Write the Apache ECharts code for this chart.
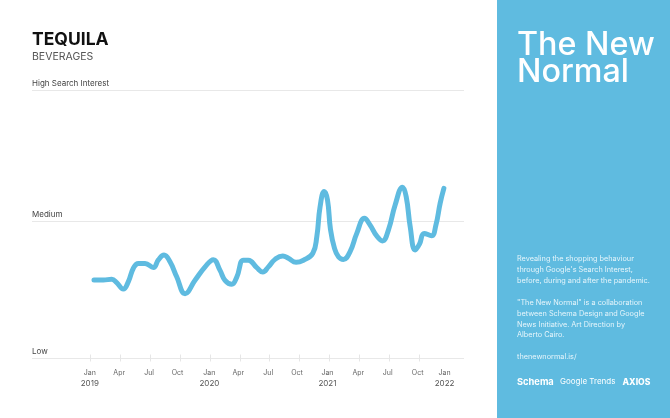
<!DOCTYPE html>
<html>
<head>
<meta charset="utf-8">
<style>
  html, body { margin: 0; padding: 0; background: #fff; }
  #chart { width: 670px; height: 418px; }
</style>
<script src="https://cdn.jsdelivr.net/npm/echarts@6/dist/echarts.min.js"></script>
</head>
<body>
<div id="chart"></div>
<script>
// months since Jan 2019
const months = [0.37, 1.31, 2.15, 2.65, 3.31, 3.82, 4.32, 4.82, 5.49, 6.33, 6.83, 7.4, 8, 8.67, 9.51, 10.51, 11.52, 12.35, 13.02, 13.52, 14.2, 14.7, 15.36, 15.86, 16.71, 17.31, 17.87, 18.54, 19.32, 19.88, 20.65, 21.39, 22.33, 22.73, 23.06, 23.47, 23.8, 24.1, 24.5, 24.9, 25.4, 26.07, 26.74, 27.51, 28.08, 28.75, 29.32, 29.92, 30.59, 31.33, 31.7, 32.1, 32.6, 33.03, 33.5, 34.24, 34.68, 35.11, 35.48]
const interest = [29.1, 29.1, 29.4, 28.1, 25.7, 28.5, 33.5, 35.3, 35.3, 33.8, 36.6, 38.4, 35.9, 30.3, 24, 29, 34, 36.7, 32.7, 29, 27.5, 30.2, 36.5, 36.5, 33.7, 32.1, 34, 36.8, 38.1, 37.2, 35.7, 36.5, 39.1, 45.3, 56.5, 62.1, 59, 48, 41, 37.8, 36.8, 39.7, 46.5, 52.1, 49.6, 45.5, 43.7, 47.8, 57.1, 63.7, 60.2, 49, 40.3, 42.5, 46.5, 45.6, 49.6, 57.8, 63.3]

const tickMonths = [0, 3, 6, 9, 12, 15, 18, 21, 24, 27, 30, 33]
const labelMonths = [-0.05, 2.9, 5.9, 8.75, 11.95, 14.85, 17.85, 20.75, 23.8, 26.9, 29.85, 32.85, 35.55]
const labelNames = ['Jan', 'Apr', 'Jul', 'Oct', 'Jan', 'Apr', 'Jul', 'Oct', 'Jan', 'Apr', 'Jul', 'Oct', 'Jan']
const yearNames = ['2019', '', '', '', '2020', '', '', '', '2021', '', '', '', '2022']

const levelValues = [0, 51.1, 100]
const levelNames = ['Low', 'Medium', 'High Search Interest']

const blurb = [
  'Revealing the shopping behaviour',
  'through Google\'s Search Interest,',
  'before, during and after the pandemic.',
  '',
  '"The New Normal" is a collaboration',
  'between Schema Design and Google',
  'News Initiative. Art Direction by',
  'Alberto Cairo.',
  '',
  'thenewnormal.is/'
]

const FONT = 'Inter, "Noto Sans", sans-serif'
const BLUE = '#5fbbe0'

const myChart = echarts.init(document.getElementById('chart'), null, { renderer: 'canvas' })

function text(x, y, str, size, fill, weight, extra) {
  return {
    type: 'text',
    x: x,
    y: y,
    style: Object.assign({
      text: str,
      fontFamily: FONT,
      fontSize: size,
      fontWeight: weight || 400,
      fill: fill,
      textVerticalAlign: 'middle'
    }, extra || {})
  }
}

myChart.setOption({
  animation: false,
  backgroundColor: '#fff',
  grid: { left: 32, right: 206, top: 90, bottom: 60 },
  xAxis: {
    type: 'value',
    min: -5.85,
    max: 37.5,
    // tick straddles the Low line: the axis is lifted and the tick hangs through it
    offset: -3.5,
    splitLine: { show: false },
    axisLine: { show: false },
    axisTick: { show: true, length: 7, customValues: tickMonths, lineStyle: { color: '#e6e6e6', width: 1 } },
    axisLabel: {
      customValues: labelMonths,
      margin: 13,
      formatter: function (v) {
        const i = labelMonths.indexOf(v)
        return '{m|' + labelNames[i] + '}\n{y|' + (yearNames[i] || ' ') + '}'
      },
      rich: {
        m: { fontFamily: FONT, fontSize: 7, color: '#666', height: 11, lineHeight: 11 },
        y: { fontFamily: FONT, fontSize: 8, color: '#555', height: 11, lineHeight: 11 }
      }
    }
  },
  yAxis: {
    type: 'value',
    min: 0,
    max: 100,
    axisLine: { show: false },
    axisTick: { show: false, customValues: levelValues },
    splitLine: { show: true, lineStyle: { color: '#e8e8e8', width: 1 } },
    axisLabel: {
      customValues: levelValues,
      inside: true,
      margin: 0,
      verticalAlign: 'bottom',
      padding: [0, 0, 2, 0],
      fontFamily: FONT,
      fontSize: 8,
      color: '#444',
      formatter: function (v) { return levelNames[levelValues.indexOf(v)] }
    }
  },
  series: [{
    type: 'line',
    data: months.map(function (m, i) { return [m, interest[i]] }),
    smooth: 0.45,
    showSymbol: false,
    lineStyle: { color: BLUE, width: 5, cap: 'round', join: 'round' }
  }],
  graphic: [
    { type: 'rect', shape: { x: 497, y: 0, width: 173, height: 418 }, style: { fill: BLUE }, z: -1 },
    text(32, 40, 'TEQUILA', 17.5, '#111', 700),
    text(32, 56.5, 'BEVERAGES', 10.5, '#555', 400),
    text(517, 45, 'The New', 32.3, '#fff', 500),
    text(517, 72, 'Normal', 32.3, '#fff', 500)
  ].concat(blurb.map(function (line, i) {
    return text(517, 259 + i * 10.9, line, 7.3, '#e6f5fb', 400)
  })).concat([
    text(517, 382, 'Schema', 9.3, '#fff', 700),
    text(560, 382, 'Google Trends', 8, '#fff', 400),
    text(622.5, 382, 'AXIOS', 8.6, '#fff', 800)
  ])
})
</script>
</body>
</html>
